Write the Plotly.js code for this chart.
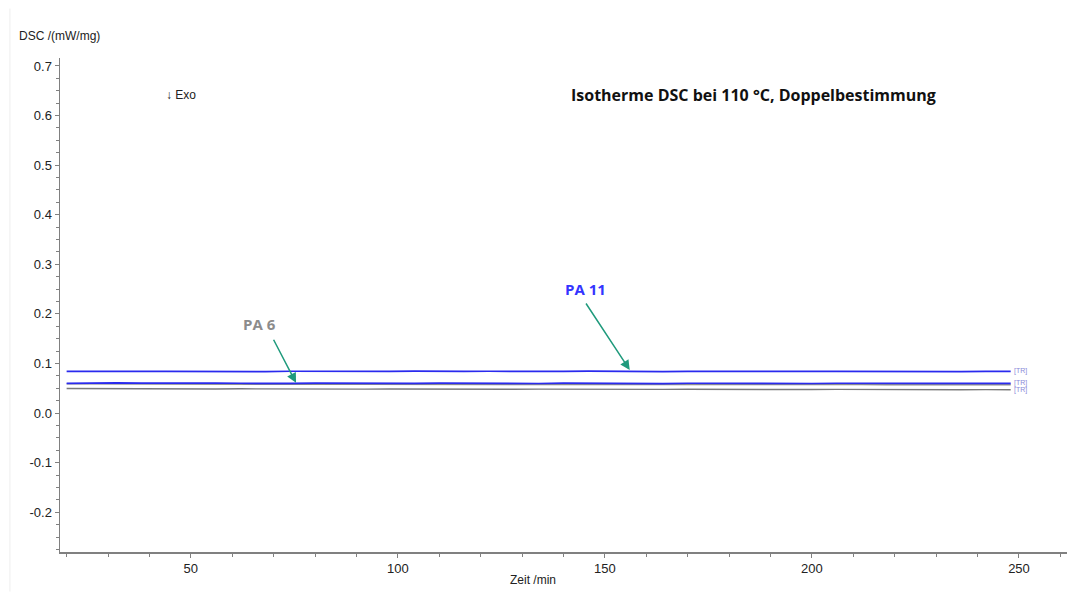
<!DOCTYPE html>
<html>
<head>
<meta charset="utf-8">
<script src="https://cdn.plot.ly/plotly-3.0.1.min.js"></script>
<style>html,body{margin:0;padding:0;background:#fff;}#chart{width:1067px;height:592px;}</style>
</head>
<body>
<div id="chart"></div>
<script>
// Time axis (min)
const time = [20,26,32,38,44,50,56,62,68,74,80,86,92,98,104,110,116,122,128,134,140,146,152,158,164,170,176,182,188,194,200,206,212,218,224,230,236,242,248];
// PA 11 runs (blue)
const pa11_run1 = [0.0842,0.0838,0.0845,0.0840,0.0843,0.0839,0.0846,0.0841,0.0838,0.0844,0.0840,0.0843,0.0837,0.0842,0.0845,0.0839,0.0841,0.0844,0.0838,0.0842,0.0840,0.0845,0.0839,0.0843,0.0837,0.0841,0.0844,0.0838,0.0842,0.0839,0.0843,0.0840,0.0837,0.0842,0.0839,0.0841,0.0838,0.0843,0.0840];
const pa11_run2 = [0.0598,0.0605,0.0609,0.0603,0.0607,0.0601,0.0606,0.0602,0.0608,0.0600,0.0604,0.0599,0.0606,0.0602,0.0598,0.0604,0.0600,0.0605,0.0601,0.0597,0.0603,0.0599,0.0604,0.0600,0.0596,0.0602,0.0598,0.0603,0.0599,0.0601,0.0597,0.0602,0.0598,0.0600,0.0596,0.0601,0.0598,0.0600,0.0599];
// PA 6 runs (gray)
const pa6_run1 = [0.0590,0.0588,0.0585,0.0583,0.0586,0.0582,0.0584,0.0581,0.0585,0.0580,0.0583,0.0579,0.0582,0.0580,0.0578,0.0581,0.0577,0.0580,0.0578,0.0576,0.0579,0.0577,0.0575,0.0578,0.0576,0.0574,0.0577,0.0575,0.0573,0.0576,0.0574,0.0572,0.0575,0.0573,0.0571,0.0574,0.0572,0.0573,0.0571];
const pa6_run2 = [0.0495,0.0492,0.0490,0.0493,0.0489,0.0491,0.0487,0.0490,0.0486,0.0489,0.0485,0.0488,0.0484,0.0487,0.0483,0.0486,0.0482,0.0485,0.0481,0.0484,0.0480,0.0483,0.0479,0.0482,0.0478,0.0481,0.0477,0.0480,0.0476,0.0479,0.0475,0.0478,0.0474,0.0477,0.0473,0.0476,0.0472,0.0474,0.0471];
// Tick labels
const xTicks = [50,100,150,200,250];
const yTicks = [-0.2,-0.1,0.0,0.1,0.2,0.3,0.4,0.5,0.6,0.7];
const yTickText = ["-0.2","-0.1","0.0","0.1","0.2","0.3","0.4","0.5","0.6","0.7"];

const series = [
  {name:'PA 6 (1)', y:pa6_run1, color:'#8c8c8c', w:1.4},
  {name:'PA 6 (2)', y:pa6_run2, color:'#7a7a7a', w:1.4},
  {name:'PA 11 (1)', y:pa11_run1, color:'#2a2aee', w:1.7},
  {name:'PA 11 (2)', y:pa11_run2, color:'#2a2aee', w:1.7}
];
const traces = series.map(s => ({
  x: time, y: s.y, type:'scatter', mode:'lines', name:s.name,
  line:{color:s.color, width:s.w}, hoverinfo:'skip'
}));

const font = 'Liberation Sans, Arial, sans-serif';
const trLabels = [pa11_run1, pa11_run2, pa6_run2].map(arr => ({
  x: time[time.length-1], y: arr[arr.length-1], xref:'x', yref:'y',
  text:'[TR]', showarrow:false, xanchor:'left', xshift:1,
  font:{family:font, size:7, color:'#8a8ad8'}
}));

const annotations = [
  {x:-0.0427, y:1.0445, xref:'paper', yref:'paper', xanchor:'left', yanchor:'middle', showarrow:false,
   text:'DSC /(mW/mg)', font:{family:font, size:12, color:'#222'}},
  {x:0.47, y:-0.057, xref:'paper', yref:'paper', xanchor:'center', yanchor:'middle', showarrow:false,
   text:'Zeit /min', font:{family:font, size:12, color:'#222'}},
  {x:47.6, y:0.641, xref:'x', yref:'y', showarrow:false, text:'↓ Exo',
   font:{family:font, size:12, color:'#222'}},
  {x:186, y:0.641, xref:'x', yref:'y', showarrow:false, text:'<b>Isotherme DSC bei 110 °C, Doppelbestimmung</b>',
   font:{family:'Open Sans, sans-serif', size:16, color:'#111'}},
  {x:145.2, y:0.250, xref:'x', yref:'y', showarrow:false, text:'<b>PA 11</b>',
   font:{family:'Open Sans, sans-serif', size:15, color:'#3434ff'}},
  {x:66.7, y:0.179, xref:'x', yref:'y', showarrow:false, text:'<b>PA 6</b>',
   font:{family:'Open Sans, sans-serif', size:15, color:'#8c8c8c'}},
  {x:156.0, y:0.087, ax:145.2, ay:0.224, xref:'x', yref:'y', axref:'x', ayref:'y', text:'',
   showarrow:true, arrowhead:2, arrowsize:1.3, arrowwidth:1.5, arrowcolor:'#1f9a7c'},
  {x:75.4, y:0.061, ax:69.8, ay:0.151, xref:'x', yref:'y', axref:'x', ayref:'y', text:'',
   showarrow:true, arrowhead:2, arrowsize:1.3, arrowwidth:1.5, arrowcolor:'#1f9a7c'}
].concat(trLabels);

const layout = {
  width:1067, height:592,
  margin:{l:60, r:0, t:58, b:40},
  paper_bgcolor:'#fff', plot_bgcolor:'#fff',
  showlegend:false,
  xaxis:{
    range:[18.4, 261.6], showgrid:false, zeroline:false,
    showline:true, linecolor:'#808080', linewidth:1.5,
    tickmode:'array', tickvals:xTicks, ticktext:xTicks.map(String),
    ticks:'outside', ticklen:4, tickcolor:'#808080',
    minor:{dtick:10, tick0:0, ticks:'outside', ticklen:3, tickcolor:'#808080'},
    tickfont:{family:font, size:13, color:'#222'}
  },
  yaxis:{
    range:[-0.28, 0.716], showgrid:false, zeroline:false,
    showline:true, linecolor:'#808080', linewidth:1.5,
    tickmode:'array', tickvals:yTicks, ticktext:yTickText,
    ticks:'outside', ticklen:4, tickcolor:'#808080',
    minor:{dtick:0.025, tick0:0, ticks:'outside', ticklen:3, tickcolor:'#808080'},
    tickfont:{family:font, size:13, color:'#222'}
  },
  annotations:annotations,
  shapes:[
    {type:'line', xref:'paper', yref:'paper', x0:-0.0497, x1:-0.0497, y0:-0.08, y1:1.10, line:{color:'#eeeeee', width:1}}
  ]
};

Plotly.newPlot('chart', traces, layout, {staticPlot:true, displayModeBar:false});
</script>
</body>
</html>
